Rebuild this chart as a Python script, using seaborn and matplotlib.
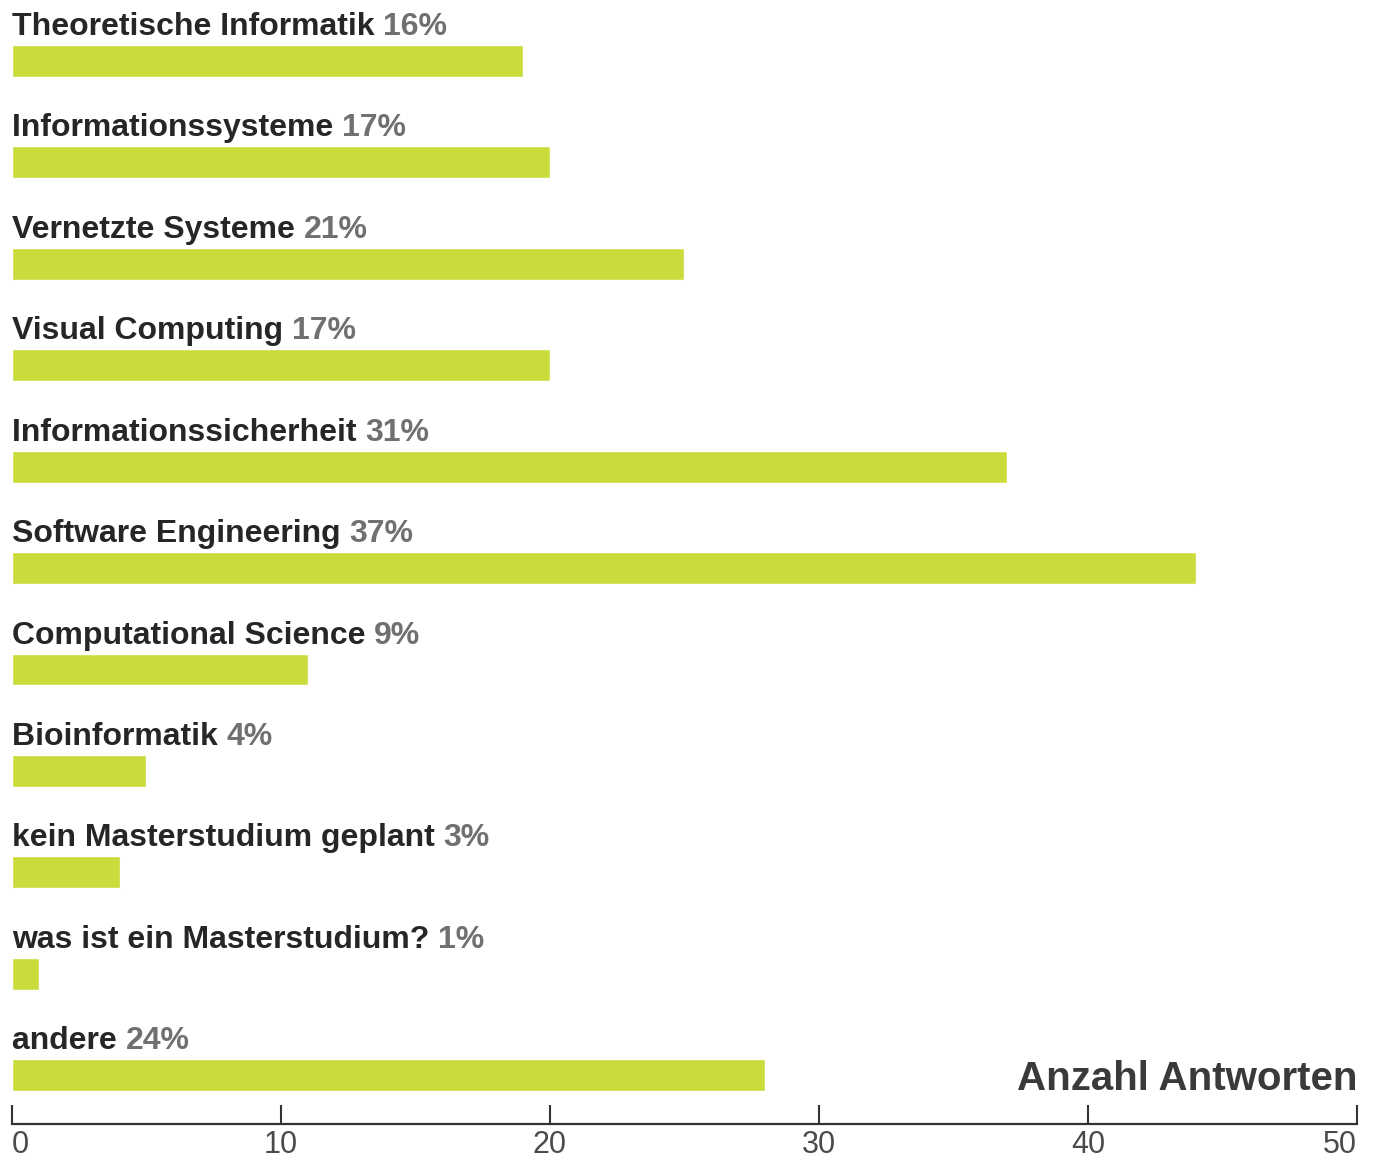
import pandas as pd
import numpy as np
import matplotlib.pyplot as plt
import seaborn as sns

# Data
categories = ['Theoretische Informatik', 'Informationssysteme', 'Vernetzte Systeme',
              'Visual Computing', 'Informationssicherheit', 'Software Engineering',
              'Computational Science', 'Bioinformatik', 'kein Masterstudium geplant',
              'was ist ein Masterstudium?', 'andere']
answers = [19, 20, 25, 20, 37, 44, 11, 5, 4, 1, 28]
percents = ['16%', '17%', '21%', '17%', '31%', '37%', '9%', '4%', '3%', '1%', '24%']
xticks = [0, 10, 20, 30, 40, 50]

df = pd.DataFrame({'Kategorie': categories, 'Anzahl': answers})

sns.set_style('white')
plt.rcParams['font.family'] = ['Liberation Sans', 'DejaVu Sans']

fig = plt.figure(figsize=(13.76, 11.68), dpi=100)
ax = fig.add_axes([0.0087, 0.0377, 0.9775, 0.9623])

sns.barplot(data=df, x='Anzahl', y='Kategorie', orient='h', color='#c9dc3b',
            saturation=1, width=0.315, ax=ax)

ax.set_xlim(0, 50)
ax.set_ylim(10.48, -0.60)
ax.set_ylabel('')
ax.set_xlabel('')
ax.set_yticks([])

# Only the bottom axis line with ticks pointing up
for side in ['top', 'right', 'left']:
    ax.spines[side].set_visible(False)
ax.spines['bottom'].set_color('#333333')
ax.spines['bottom'].set_linewidth(1.6)
ax.set_xticks(xticks)
ax.set_xticklabels([str(t) for t in xticks], fontsize=22, color='#4a4a4a')
ax.tick_params(axis='x', bottom=True, direction='in', length=14, width=1.5,
               color='#333333', pad=4)
labels = ax.get_xticklabels()
labels[0].set_ha('left')
labels[-1].set_ha('right')

# Category labels with percentage above each bar
for i, (name, pct) in enumerate(zip(categories, percents)):
    txt = ax.text(0, i - 0.256, name + ' ', fontsize=23, fontweight='bold',
                  color='#262626', ha='left', va='baseline')
    ax.annotate(pct, xy=(1, 0), xycoords=txt, fontsize=23, fontweight='bold',
                color='#707070', ha='left', va='bottom')

ax.text(50, 10.15, 'Anzahl Antworten', fontsize=29, fontweight='bold', color='#3a3a3a',
        ha='right', va='baseline')

plt.savefig('out.png', dpi=100, facecolor='white')
